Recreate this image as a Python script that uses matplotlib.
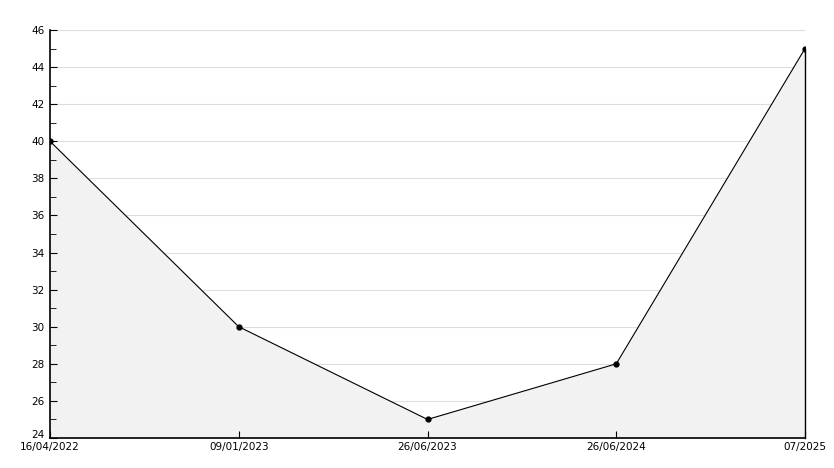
import numpy as np
import matplotlib
matplotlib.use('Agg')
import matplotlib.pyplot as plt
import matplotlib.transforms as mtransforms

dates = ['16/04/2022', '09/01/2023', '26/06/2023', '26/06/2024', '07/2025']
values = [40, 30, 25, 28, 45]

x = np.arange(len(dates))

fig = plt.figure(figsize=(8.34, 4.68), dpi=100)
ax = fig.add_axes([50 / 834, 30 / 468, 755 / 834, 408 / 468])

# horizontal grid lines, drawn under the filled area
for yv in np.arange(26, 47, 2):
    ax.axhline(yv, color='#dddddd', linewidth=0.8, zorder=0.5)

ax.fill_between(x, values, 24, color='#f2f2f2', zorder=1)
ax.plot(x, values, color='black', linewidth=0.8, marker='o', markersize=3.5, zorder=3)
# right edge of the filled area
ax.plot([x[-1], x[-1]], [24, values[-1]], color='black', linewidth=1.0, zorder=3, clip_on=False)

ax.set_xlim(0, len(dates) - 1)
ax.set_ylim(24, 46)
ax.set_xticks(x)
ax.set_xticklabels(dates)
ax.set_yticks(np.arange(24, 47, 2))
ax.set_yticks(np.arange(25, 46, 2), minor=True)

for side in ['top', 'right']:
    ax.spines[side].set_visible(False)
ax.spines['left'].set_linewidth(1.2)
ax.spines['bottom'].set_linewidth(1.2)
ax.spines['left'].set_zorder(4)
ax.spines['bottom'].set_zorder(4)

ax.tick_params(axis='both', which='major', direction='in', length=5, labelsize=7.5, pad=4)
ax.tick_params(axis='y', which='minor', direction='in', length=4)
ax.tick_params(axis='x', which='major', pad=3)
ax.xaxis.set_zorder(4)
ax.yaxis.set_zorder(4)

# lift the lowest y label a bit so it clears the first date
lbl = ax.get_yticklabels()[0]
lbl.set_transform(lbl.get_transform() + mtransforms.ScaledTranslation(0, 3 / 72, fig.dpi_scale_trans))

fig.savefig('out.png', dpi=100)
